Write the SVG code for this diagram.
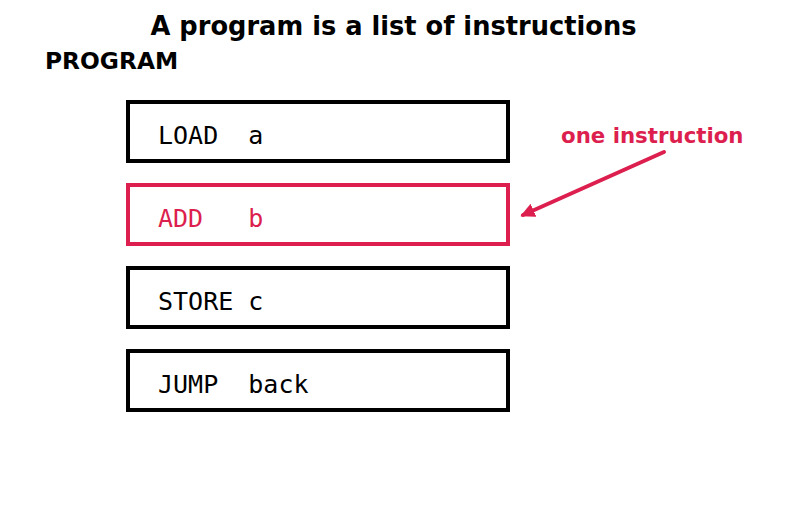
<svg xmlns="http://www.w3.org/2000/svg" width="787" height="512" viewBox="0 0 787 512">
  <style>
    .title { font-family: "DejaVu Sans", sans-serif; font-weight: bold; fill: #000; }
    .box { fill: #fff; stroke: #000; stroke-width: 4; }
    .box.hot { stroke: #dc1f4e; }
    .code { font-family: "DejaVu Sans Mono", monospace; font-size: 25px; fill: #000; white-space: pre; }
    .code.hot { fill: #dc1f4e; }
    .note { font-family: "DejaVu Sans", sans-serif; font-weight: bold; font-size: 21.3px; fill: #dc1f4e; }
  </style>
  <defs>
    <marker id="head" viewBox="0 0 10 10" refX="8" refY="5" markerWidth="3.6" markerHeight="3.6" orient="auto">
      <path d="M0,0 L10,5 L0,10 z" fill="#dc1f4e"/>
    </marker>
  </defs>
  <rect width="787" height="512" fill="#fff"/>
  <text class="title" x="393.5" y="35" font-size="25.7" text-anchor="middle">A program is a list of instructions</text>
  <text class="title" x="45" y="69" font-size="23.3">PROGRAM</text>

  <g id="instr-load">
    <rect class="box" x="128" y="102" width="380" height="59"/>
    <text class="code" x="158" y="143.5" xml:space="preserve">LOAD  a</text>
  </g>
  <g id="instr-add">
    <rect class="box hot" x="128" y="185" width="380" height="59"/>
    <text class="code hot" x="158" y="226.5" xml:space="preserve">ADD   b</text>
  </g>
  <g id="instr-store">
    <rect class="box" x="128" y="268" width="380" height="59"/>
    <text class="code" x="158" y="309.5" xml:space="preserve">STORE c</text>
  </g>
  <g id="instr-jump">
    <rect class="box" x="128" y="351" width="380" height="59"/>
    <text class="code" x="158" y="392.5" xml:space="preserve">JUMP  back</text>
  </g>

  <g id="label">
    <text class="note" x="561" y="143">one instruction</text>
  </g>
  <g id="connectors">
    <line x1="664" y1="152" x2="523" y2="215" stroke="#dc1f4e" stroke-width="4" stroke-linecap="round" marker-end="url(#head)"/>
  </g>
</svg>
